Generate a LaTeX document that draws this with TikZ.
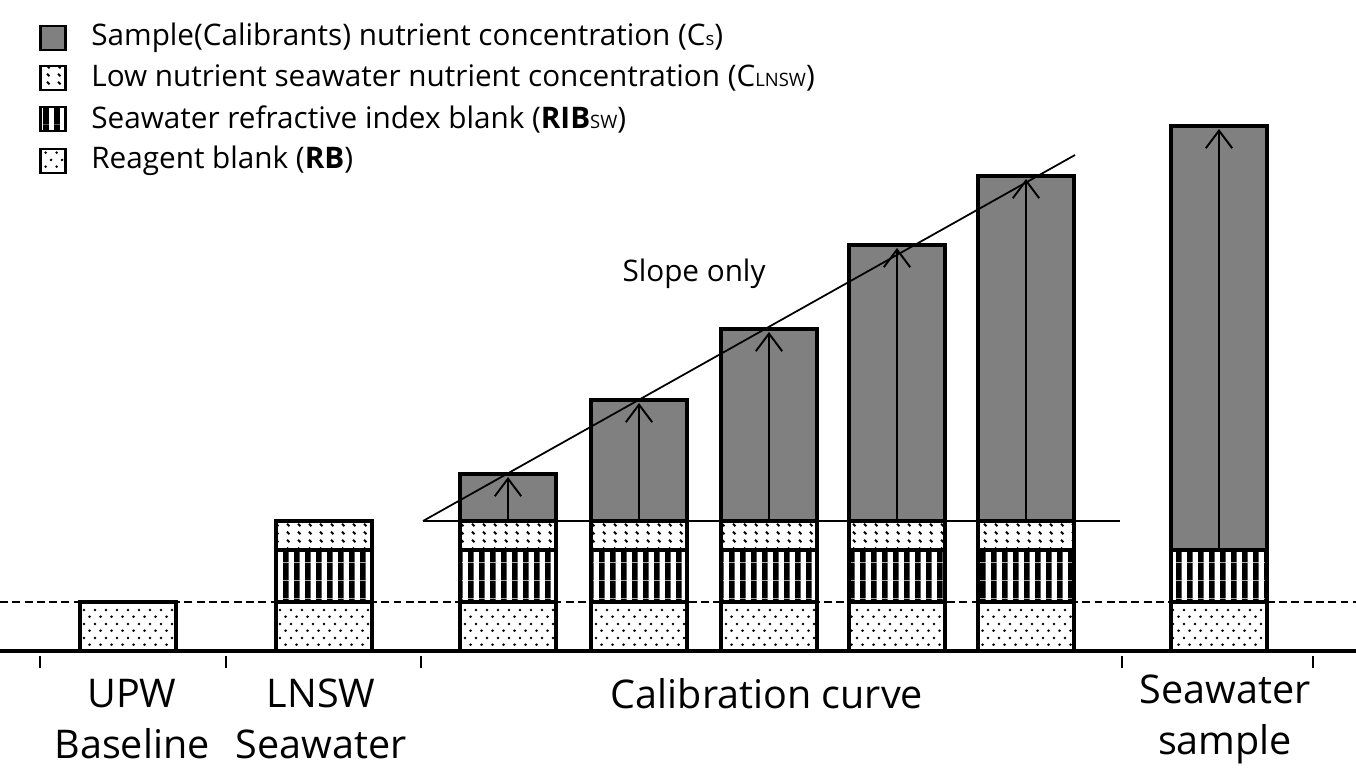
\documentclass[tikz,border=0pt]{standalone}
\usepackage{fontspec}
\setmainfont{Open Sans}
\usetikzlibrary{patterns}
\usetikzlibrary{arrows.meta}
\usetikzlibrary{positioning}

\definecolor{csgray}{HTML}{808080}

%% fill patterns of the four signal parts
\pgfdeclarepatternformonly{rbdots}{\pgfqpoint{0pt}{0pt}}{\pgfqpoint{6.2pt}{8pt}}{\pgfqpoint{6.2pt}{8pt}}{
  \pgfpathcircle{\pgfqpoint{1.5pt}{2pt}}{0.85pt}
  \pgfpathcircle{\pgfqpoint{4.6pt}{6pt}}{0.85pt}
  \pgfusepath{fill}}
\pgfdeclarepatternformonly{ribstripes}{\pgfqpoint{0pt}{0pt}}{\pgfqpoint{6.2pt}{10pt}}{\pgfqpoint{6.2pt}{10pt}}{
  \pgfpathrectangle{\pgfqpoint{0pt}{0pt}}{\pgfqpoint{3.3pt}{10pt}}
  \pgfusepath{fill}}
\pgfdeclarepatternformonly{lnswdash}{\pgfqpoint{0pt}{0pt}}{\pgfqpoint{6.2pt}{9pt}}{\pgfqpoint{6.2pt}{9pt}}{
  \pgfsetlinewidth{1.1pt}
  \pgfpathmoveto{\pgfqpoint{2.3pt}{7.5pt}}
  \pgfpathlineto{\pgfqpoint{3.7pt}{6.1pt}}
  \pgfpathmoveto{\pgfqpoint{2.3pt}{3pt}}
  \pgfpathlineto{\pgfqpoint{3.7pt}{1.6pt}}
  \pgfusepath{stroke}}

\tikzstyle{rb} = [draw, line width=2.6pt, pattern=rbdots]
\tikzstyle{rib} = [draw, line width=2.6pt, pattern=ribstripes]
\tikzstyle{lnsw} = [draw, line width=2.6pt, pattern=lnswdash]
\tikzstyle{cs} = [draw, line width=2.6pt, fill=csgray]
\tikzstyle{line} = [draw, line width=1pt]
\tikzstyle{rise} = [draw, line width=1.1pt, -{Straight Barb[length=10pt,width=15pt]}]

\begin{document}
\begin{tikzpicture}[x=0.02cm,y=-0.02cm,
        legbox/.style={draw, line width=1.6pt, minimum width=0.5cm,
            minimum height=0.48cm, inner sep=0pt},
        legtext/.style={anchor=west, inner sep=0pt,
            font=\fontsize{16.9}{18}\selectfont},
        grouplabel/.style={align=center, inner sep=0pt,
            font=\fontsize{22.5}{29}\selectfont},
        tick/.style={line width=1.2pt}]
    \useasboundingbox (0,0) rectangle (1356,774);
    %% Legend
    \node [legbox, fill=csgray] at (53,38) (k1) {};
    \node [legbox, pattern=lnswdash] at (53,78) (k2) {};
    \node [legbox, pattern=ribstripes] at (53,119) (k3) {};
    \node [legbox, pattern=rbdots] at (53,161) (k4) {};
    \node [legtext] at (91,38) (t1) {Sample(Calibrants) nutrient concentration (C{\fontsize{10.5}{12}\selectfont s})};
    \node [legtext] at (91,78) (t2) {Low nutrient seawater nutrient concentration (C{\fontsize{10.5}{12}\selectfont LNSW})};
    \node [legtext] at (91,119) (t3) {Seawater refractive index blank (\textbf{RIB}{\fontsize{10.5}{12}\selectfont SW})};
    \node [legtext] at (91,161) (t4) {Reagent blank (\textbf{RB})};
    %% Axis
    \draw [line width=0.9pt, dash pattern=on 4.5pt off 2.5pt] (0,602) -- (1356,602);
    \draw [line width=2.8pt] (0,651) -- (1356,651);
    \foreach \x in {40,226,421,1122,1313}
        \draw [tick] (\x,656) -- (\x,668);
    %% UPW baseline
    \path [rb] (80,602) rectangle (176,651);
    %% LNSW
    \path [rb] (276,602) rectangle (372,651);
    \path [rib] (276,550) rectangle (372,602);
    \path [lnsw] (276,521) rectangle (372,550);
    %% Calibrants
    \foreach \x/\top [count=\i] in {508/474,639/400,769/329,897/245,1026/176} {
        \path [rb] (\x-48,602) rectangle (\x+48,651);
        \path [rib] (\x-48,550) rectangle (\x+48,602);
        \path [lnsw] (\x-48,521) rectangle (\x+48,550);
        \path [cs] (\x-48,\top) rectangle (\x+48,521);
        \coordinate (b\i) at (\x,521);
        \coordinate (h\i) at (\x,\top+3);
        \path [rise] (b\i) -- (h\i);
    }
    %% Seawater sample
    \path [rb] (1171,602) rectangle (1267,651);
    \path [rib] (1171,550) rectangle (1267,602);
    \path [cs] (1171,126) rectangle (1267,550);
    \coordinate (bs) at (1219,550);
    \coordinate (hs) at (1219,129);
    \path [rise] (bs) -- (hs);
    %% Slope
    \coordinate (o) at (423,521);
    \coordinate (e) at (1120,521);
    \coordinate (s) at (1075,155);
    \path [line] (o) -- (e);
    \path [line] (o) -- (s);
    \node [font=\fontsize{16.9}{18}\selectfont] at (694,274) (slope) {Slope only};
    %% Groups
    \node [grouplabel] at (132,719) (upw) {UPW\\Baseline};
    \node [grouplabel] at (321,719) (lnswl) {LNSW\\Seawater};
    \node [grouplabel, anchor=north] at (767,678) (cal) {Calibration curve};
    \node [grouplabel] at (1225,719) (sw) {Seawater\\sample};
\end{tikzpicture}
\end{document}
